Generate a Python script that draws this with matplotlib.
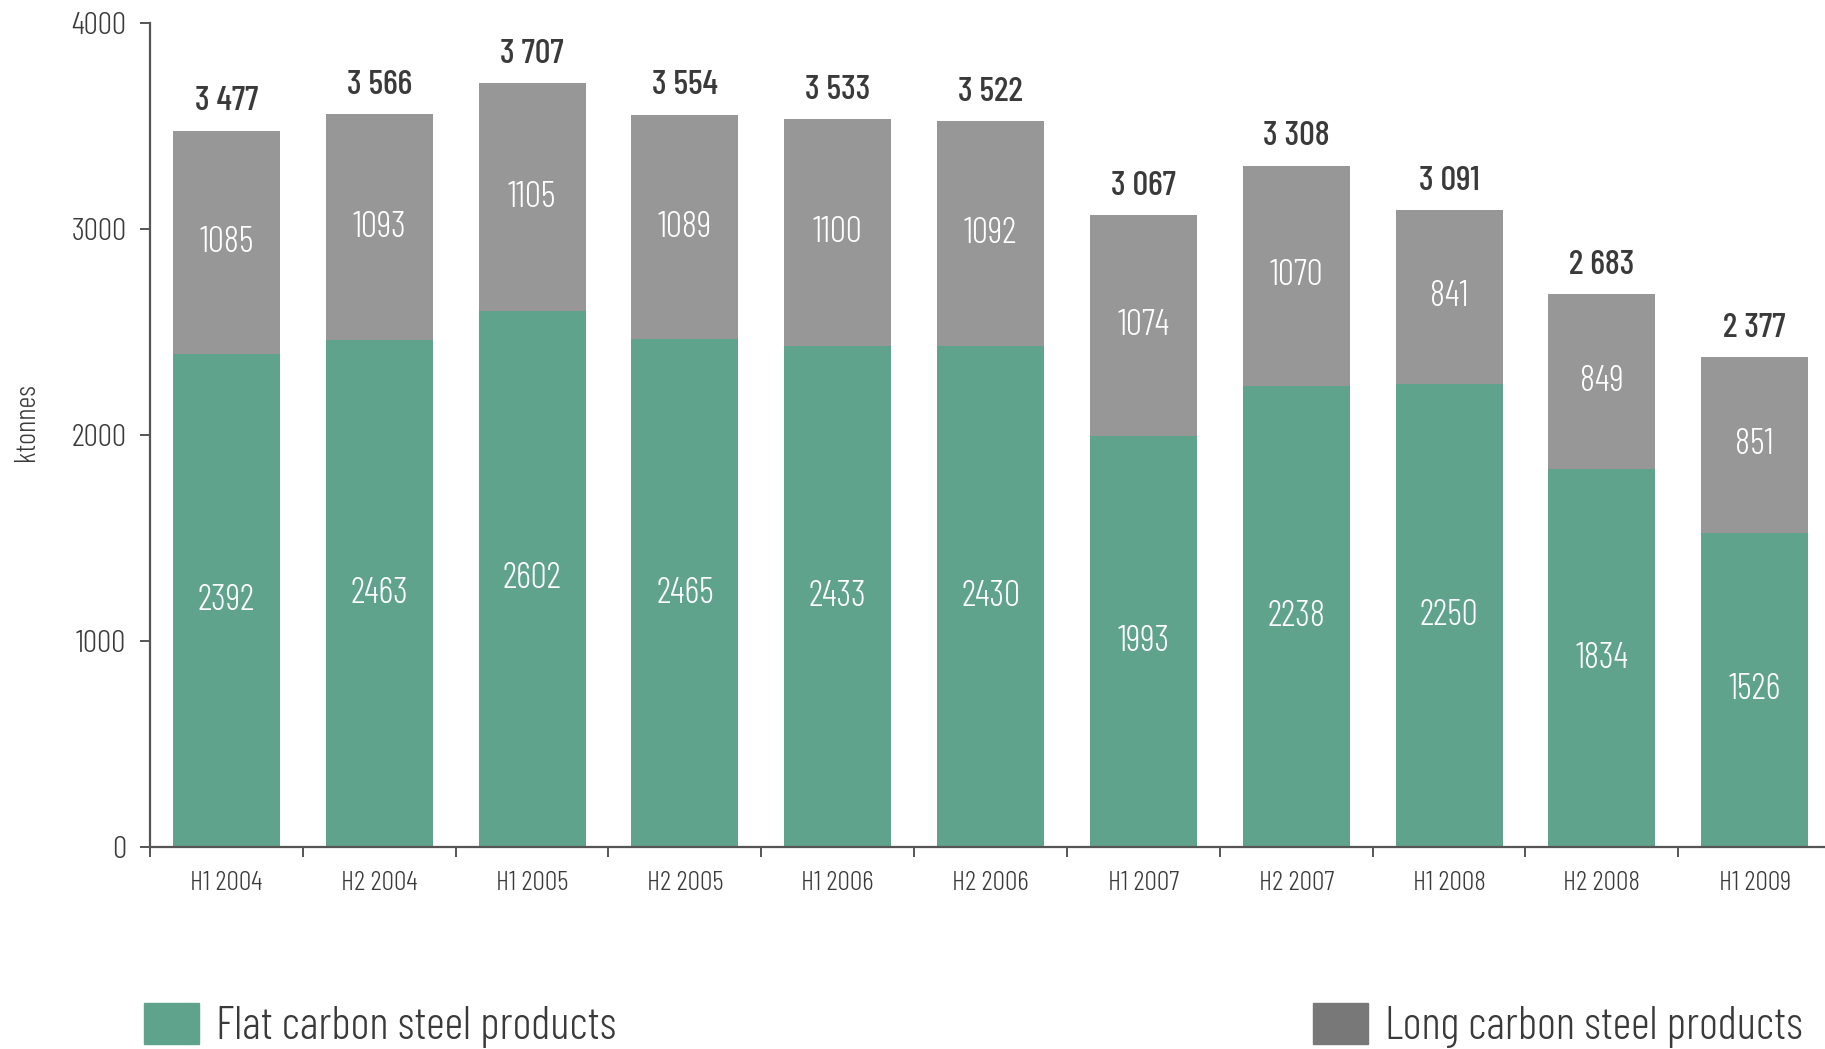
import numpy as np
import matplotlib
matplotlib.use("Agg")
import matplotlib.pyplot as plt
from matplotlib import font_manager as fm
from matplotlib.patches import Patch

# pick a narrow sans family that is installed
installed = {f.name for f in fm.fontManager.ttflist}
for fam in ['Barlow Condensed', 'Roboto Condensed', 'IBM Plex Sans Condensed', 'DejaVu Sans']:
    if fam in installed:
        break
plt.rcParams['font.family'] = [fam, 'DejaVu Sans']

periods = ['H1 2004', 'H2 2004', 'H1 2005', 'H2 2005', 'H1 2006', 'H2 2006',
           'H1 2007', 'H2 2007', 'H1 2008', 'H2 2008', 'H1 2009']
flat = [2392, 2463, 2602, 2465, 2433, 2430, 1993, 2238, 2250, 1834, 1526]
long_ = [1085, 1093, 1105, 1089, 1100, 1092, 1074, 1070, 841, 849, 851]
totals = [3477, 3566, 3707, 3554, 3533, 3522, 3067, 3308, 3091, 2683, 2377]

GREEN = '#60a38d'
GREY = '#979797'
GREY_LEGEND = '#787878'
TEXT = '#3a3a3a'
AXIS = '#555555'
THIN = 300

W, H = 1825, 1049
fig = plt.figure(figsize=(W / 100, H / 100), dpi=100)
ax = fig.add_axes([150 / W, 1 - 847 / H, (W - 150) / W, (847 - 23) / H])

x = np.arange(len(periods))
width = 0.70
ax.bar(x, flat, width, color=GREEN)
ax.bar(x, long_, width, bottom=flat, color=GREY)

# values inside each segment, totals above the stack
for i in range(len(x)):
    ax.text(x[i], flat[i] / 2, str(flat[i]), ha='center', va='center',
            color='white', fontsize=26, fontweight=THIN)
    ax.text(x[i], flat[i] + long_[i] / 2, str(long_[i]), ha='center', va='center',
            color='white', fontsize=26, fontweight=THIN)
    top = flat[i] + long_[i]
    ax.annotate(f"{totals[i]:,}".replace(',', ' '), (x[i], top),
                xytext=(0, 21), textcoords='offset points',
                ha='center', va='center', fontsize=25, fontweight='medium', color=TEXT)

ax.set_xlim(-0.5, 10.46)
ax.set_ylim(0, 4000)
ax.set_yticks([0, 1000, 2000, 3000, 4000])
ax.set_xticks(x)
ax.set_xticklabels(periods)
ax.set_xticks(np.arange(-0.5, 10.5, 1.0), minor=True)

for side in ['top', 'right']:
    ax.spines[side].set_visible(False)
for side in ['left', 'bottom']:
    ax.spines[side].set_color(AXIS)
    ax.spines[side].set_linewidth(1.6)

ax.tick_params(axis='y', length=7, width=1.4, color=AXIS, pad=10,
               labelsize=23, labelcolor=TEXT)
ax.tick_params(axis='x', which='major', length=0, pad=17,
               labelsize=20, labelcolor=TEXT)
ax.tick_params(axis='x', which='minor', length=7, width=1.4, color=AXIS)
for lbl in ax.get_xticklabels() + ax.get_yticklabels():
    lbl.set_fontweight(THIN)

fig.text(26 / W, 0.598, 'ktonnes', rotation=90, ha='center', va='center',
         fontsize=21, color=TEXT, fontweight=THIN)

legend_kw = dict(loc='upper left', frameon=False, borderpad=0,
                 borderaxespad=0, handlelength=1.2, handleheight=1.0,
                 handletextpad=0.38, labelcolor=TEXT,
                 prop={'family': [fam, 'DejaVu Sans'], 'size': 33, 'weight': THIN})
fig.legend(handles=[Patch(color=GREEN, label='Flat carbon steel products')],
           bbox_to_anchor=(144 / W, 1 - 1003 / H), **legend_kw)
fig.legend(handles=[Patch(color=GREY_LEGEND, label='Long carbon steel products')],
           bbox_to_anchor=(1313 / W, 1 - 1003 / H), **legend_kw)

fig.savefig('out.png', dpi=100)
